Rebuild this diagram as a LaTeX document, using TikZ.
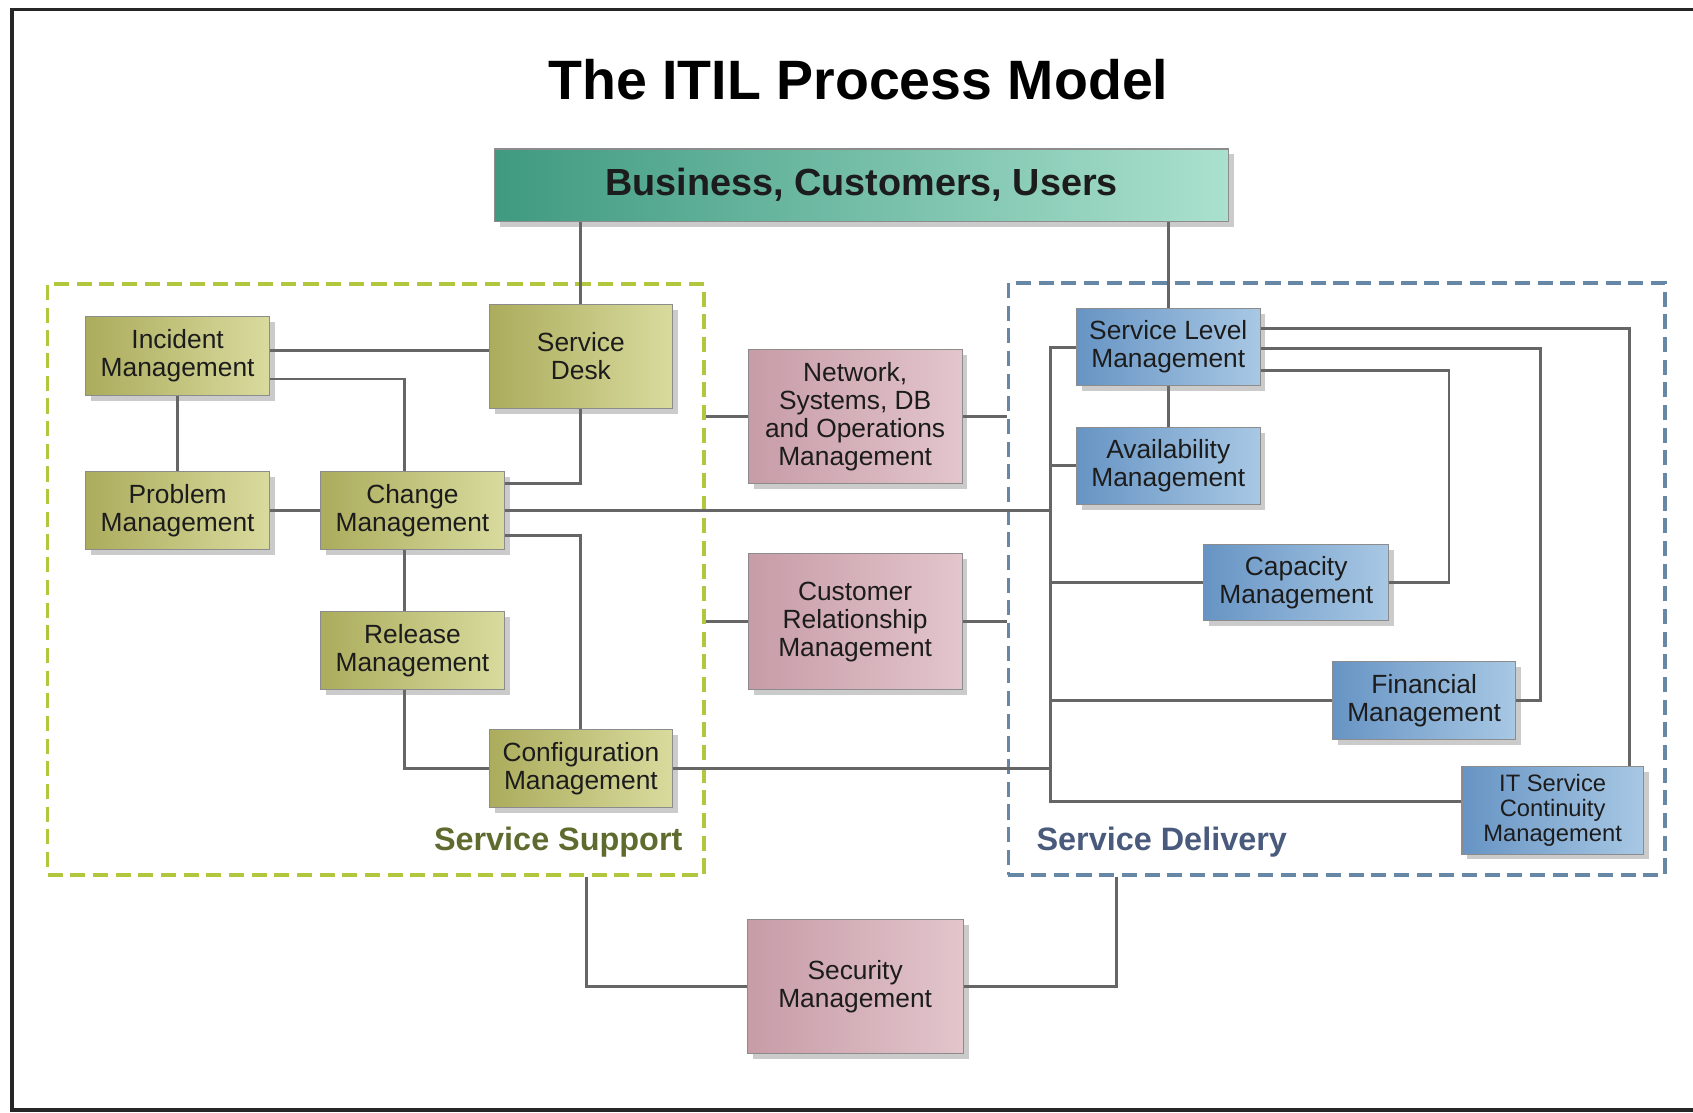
\documentclass[tikz,border=0pt]{standalone}
\usepackage{fontspec}
\setmainfont{Liberation Sans}
\usetikzlibrary{calc,positioning,shadows}
\definecolor{ink}{HTML}{1C1C1C}
\definecolor{wirec}{HTML}{666666}
\definecolor{olivelo}{HTML}{ABAC5C}
\definecolor{olivehi}{HTML}{D9DB9E}
\definecolor{roselo}{HTML}{C79CA7}
\definecolor{rosehi}{HTML}{E3C5CC}
\definecolor{skylo}{HTML}{6794C4}
\definecolor{skyhi}{HTML}{A8C8E4}
\definecolor{teallo}{HTML}{3F9A80}
\definecolor{tealhi}{HTML}{AAE1CE}
\definecolor{suplime}{HTML}{B2C63E}
\definecolor{suptext}{HTML}{5F6B2E}
\definecolor{delblue}{HTML}{6688A6}
\definecolor{deltext}{HTML}{4A5A7D}
\newcommand{\Boxf}{\fontsize{12.2}{13}\selectfont}
\newcommand{\Lblf}{\fontsize{15}{17}\selectfont\bfseries}

\begin{document}
\begin{tikzpicture}[x=0.5pt,y=-0.5pt, font=\Boxf,
    proc/.style={rectangle, inner sep=0pt, align=center, text=ink, draw=black!45, line width=0.5pt,
      drop shadow={shadow xshift=2.5pt, shadow yshift=-2.5pt, fill=black!45, opacity=.45}},
    wire/.style={draw=wirec, line width=1.35pt},
    frame/.style={rectangle, inner sep=0pt, line width=1.8pt, dash pattern=on 7pt off 3.5pt}]
  \useasboundingbox (0,0) rectangle (1568,1030);
  \draw[line width=1.6pt, black!85] (1568,9) -- (11,9) -- (11,1028) -- (1568,1028);
  \node[font=\fontsize{25.7}{30}\selectfont\bfseries] (title) at (795,74) {The ITIL Process Model};
  \node[proc, left color=teallo, right color=tealhi, minimum width=340pt, minimum height=33.5pt,
        font=\fontsize{17.5}{20}\selectfont\bfseries] (biz) at (798,171.5) {Business, Customers, Users};
  % the two dashed groups
  \node[frame, draw=suplime, minimum width=304pt, minimum height=273.5pt] (sup) at (348,536.5) {};
  \node[frame, draw=delblue, minimum width=304pt, minimum height=274pt] (del) at (1238,536) {};
  \node[text=suptext, font=\Lblf] (suplbl) at (517,780) {Service Support};
  \node[text=deltext, font=\Lblf] (dellbl) at (1076,780) {Service Delivery};
  % process boxes: name/x/y/w/h/text
  \foreach \nm/\cx/\cy/\w/\h/\txt in {inc/164.5/329.5/171/73/{Incident\\Management},
      desk/538/330/170/96/{Service\\Desk}, prob/164.5/473/171/72/{Problem\\Management},
      chg/382/473/170/72/{Change\\Management}, rel/382/602.5/170/73/{Release\\Management},
      cfg/538/712/170/72/{Configuration\\Management}}
    \node[proc, left color=olivelo, right color=olivehi, minimum width=\w*0.5pt, minimum height=\h*0.5pt]
      (\nm) at (\cx,\cy) {\txt};
  \foreach \nm/\cx/\cy/\w/\h/\txt in {net/792/386/198/124/{Network,\\Systems, DB\\and Operations\\Management},
      crm/792/576/198/126/{Customer\\Relationship\\Management}, sec/792/914/200/124/{Security\\Management}}
    \node[proc, left color=roselo, right color=rosehi, minimum width=\w*0.5pt, minimum height=\h*0.5pt]
      (\nm) at (\cx,\cy) {\txt};
  \foreach \nm/\cx/\cy/\w/\h/\txt in {slm/1082/321.5/170/71/{Service Level\\Management},
      avl/1082/431.5/170/71/{Availability\\Management}, cap/1200.5/539.5/171/71/{Capacity\\Management},
      fin/1319/649/170/72/{Financial\\Management}}
    \node[proc, left color=skylo, right color=skyhi, minimum width=\w*0.5pt, minimum height=\h*0.5pt]
      (\nm) at (\cx,\cy) {\txt};
  \node[proc, left color=skylo, right color=skyhi, minimum width=84pt, minimum height=40.5pt,
        font=\fontsize{11}{11.8}\selectfont] (itc) at (1438,750.5) {IT Service\\Continuity\\Management};
  % support side
  \draw[wire] (biz.south -| desk.north) -- (desk.north);
  \draw[wire] (inc.east |- 0,325) -- (desk.west |- 0,325);
  \draw[wire] (inc.east |- 0,351) -| ([xshift=-3.5pt]chg.north);
  \draw[wire] (inc.south) -- (prob.north);
  \draw[wire] (prob.east) -- (chg.west);
  \draw[wire] (chg.east |- 0,448) -| (desk.south);
  \draw[wire] (chg.east |- 0,496) -| (cfg.north);
  \draw[wire] ([xshift=-3.5pt]chg.south) -- ([xshift=-3.5pt]rel.north);
  \draw[wire] ([xshift=-3.5pt]rel.south) |- (cfg.west);
  % middle boxes to the groups
  \draw[wire] (net.west) -- (net.west -| sup.east);
  \draw[wire] (net.east) -- (net.east -| del.west);
  \draw[wire] (crm.west) -- (crm.west -| sup.east);
  \draw[wire] (crm.east) -- (crm.east -| del.west);
  \draw[wire] (sec.west) -| (543,0 |- sup.south);
  \draw[wire] (sec.east) -| (1034,0 |- del.south);
  % delivery side
  \coordinate (busT) at (973,0 |- slm.west);
  \coordinate (busB) at (973,742);
  \draw[wire] (biz.south -| slm.north) -- (slm.north);
  \draw[wire] (slm.south) -- (avl.north);
  \draw[wire] (slm.west) -- (busT) -- (busB) -- (busB -| itc.west);
  \foreach \src in {avl.west, cap.west, fin.west, chg.east, cfg.east}
    \draw[wire] (\src) -- (\src -| busT);
  \draw[wire] (slm.east |- 0,304) -| (1509,0 |- itc.north);
  \draw[wire] (slm.east |- 0,323) -| (1427,0 |- fin.east) -- (fin.east);
  \draw[wire] (slm.east |- 0,343) -| (1342,0 |- cap.east) -- (cap.east);
\end{tikzpicture}
\end{document}
